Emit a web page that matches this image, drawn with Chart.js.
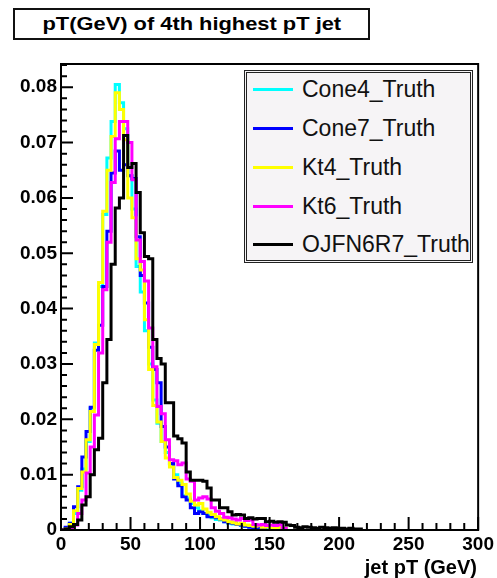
<!DOCTYPE html>
<html>
<head>
  <title>pT(GeV) of 4th highest pT jet</title>
  <script src="https://cdn.jsdelivr.net/npm/chart.js"></script>
  <style>
    body {
      margin: 0;
      background: #fff;
      font-family: "Liberation Sans", Arial, Helvetica, sans-serif;
    }

    .wrap {
      position: relative;
      width: 497px;
      height: 578px;
    }

    canvas {
      position: absolute;
      left: 0;
      top: 0;
    }

    .title {
      position: absolute;
      left: 13px;
      top: 8px;
      width: 353px;
      height: 28px;
      border: 2px solid #111;
      background: #fff;
      text-align: center;
      line-height: 28px;
      font-weight: bold;
      font-size: 19px;
    }

    .title span {
      display: inline-block;
      transform: scaleX(1.15);
    }

    .legend {
      position: absolute;
      left: 244px;
      top: 70px;
      width: 223px;
      height: 187px;
      border: 3px double #222;
      background: #f6f4f6;
    }

    .legend .row {
      position: absolute;
      left: 0;
      height: 26px;
      width: 100%;
    }

    .legend .swatch {
      position: absolute;
      left: 6px;
      top: 12px;
      width: 40px;
      height: 3px;
    }

    .legend .label {
      position: absolute;
      left: 55px;
      top: 0;
      font-size: 23px;
      line-height: 26px;
      color: #111;
      white-space: nowrap;
    }

    .xtitle {
      position: absolute;
      right: 20px;
      top: 556px;
      font-weight: bold;
      font-size: 20px;
      line-height: 22px;
    }
  </style>
</head>
<body>
  <div class="wrap">
    <canvas id="ptChart" width="497" height="578"></canvas>
    <div class="title"><span>pT(GeV) of 4th highest pT jet</span></div>
    <div class="legend" id="legend"></div>
    <div class="xtitle">jet pT (GeV)</div>
  </div>

  <script>
    // 3 GeV bins starting at 0
    const binWidth = 3;
    const xTicks = [0, 50, 100, 150, 200, 250, 300];
    const yTicks = [0, 0.01, 0.02, 0.03, 0.04, 0.05, 0.06, 0.07, 0.08];

    const seriesNames = ['Cone4_Truth', 'Cone7_Truth', 'Kt4_Truth', 'Kt6_Truth', 'OJFN6R7_Truth'];
    const seriesColors = ['#00ffff', '#0000ff', '#ffff00', '#ff00ff', '#000000'];

    const cone4 = [0, 0.0003, 0.0012, 0.0030, 0.0072, 0.0110, 0.0160, 0.0220, 0.0338, 0.0440,
      0.0570, 0.0672, 0.0738, 0.0805, 0.0772, 0.0725, 0.0640, 0.0580, 0.0476, 0.0430,
      0.0360, 0.0300, 0.0235, 0.0193, 0.0160, 0.0140, 0.0118, 0.0100, 0.0085, 0.0062,
      0.0058, 0.0048, 0.0040, 0.0035, 0.0030, 0.0026, 0.0022, 0.0019, 0.0018, 0.0015,
      0.0012, 0.0011, 0.0010, 0.0008, 0.0007, 0.0006, 0.0005, 0.0004, 0.0003, 0.0003,
      0.0002, 0.0002, 0.0001];

    const cone7 = [0.0001, 0.0005, 0.0012, 0.0042, 0.0078, 0.0132, 0.0178, 0.0222, 0.0325, 0.0370,
      0.0440, 0.0540, 0.0645, 0.0685, 0.0650, 0.0660, 0.0640, 0.0635, 0.0530, 0.0460,
      0.0410, 0.0330, 0.0290, 0.0266, 0.0187, 0.0150, 0.0120, 0.0092, 0.0080, 0.0060,
      0.0054, 0.0040, 0.0030, 0.0033, 0.0030, 0.0024, 0.0024, 0.0022, 0.0020, 0.0015,
      0.0013, 0.0012, 0.0010, 0.0009, 0.0007, 0.0005, 0.0004, 0.0003, 0.0002];

    const kt4 = [0, 0.0002, 0.0010, 0.0035, 0.0075, 0.0105, 0.0163, 0.0214, 0.0335, 0.0447,
      0.0576, 0.0650, 0.0711, 0.0790, 0.0760, 0.0705, 0.0600, 0.0564, 0.0490, 0.0470,
      0.0380, 0.0290, 0.0225, 0.0195, 0.0160, 0.0130, 0.0114, 0.0095, 0.0090, 0.0082,
      0.0065, 0.0052, 0.0045, 0.0048, 0.0038, 0.0032, 0.0028, 0.0024, 0.0020, 0.0018,
      0.0015, 0.0013, 0.0011, 0.0012, 0.0009, 0.0008, 0.0007, 0.0008, 0.0005, 0.0006,
      0.0004, 0.0004, 0.0005, 0.0003];

    const kt6 = [0, 0, 0.0002, 0.0009, 0.0030, 0.0054, 0.0103, 0.0150, 0.0208, 0.0320,
      0.0434, 0.0520, 0.0628, 0.0707, 0.0738, 0.0738, 0.0700, 0.0633, 0.0524, 0.0485,
      0.0450, 0.0365, 0.0295, 0.0223, 0.0210, 0.0163, 0.0127, 0.0125, 0.0118, 0.0121,
      0.0092, 0.0088, 0.0054, 0.0058, 0.0060, 0.0056, 0.0040, 0.0034, 0.0030, 0.0023,
      0.0022, 0.0020, 0.0018, 0.0021, 0.0017, 0.0018, 0.0010, 0.0009, 0.0010, 0.0008,
      0.0009, 0.0008, 0.0010, 0.0003];

    const ojfn6r7 = [0, 0.0002, 0.0006, 0.0010, 0.0018, 0.0045, 0.0060, 0.0100, 0.0145, 0.0166,
      0.0266, 0.0344, 0.0480, 0.0582, 0.0600, 0.0713, 0.0655, 0.0662, 0.0610, 0.0537,
      0.0494, 0.0490, 0.0344, 0.0310, 0.0300, 0.0230, 0.0230, 0.0170, 0.0165, 0.0157,
      0.0105, 0.0090, 0.0090, 0.0090, 0.0088, 0.0076, 0.0054, 0.0054, 0.0040, 0.0040,
      0.0033, 0.0027, 0.0028, 0.0027, 0.0021, 0.0022, 0.0020, 0.0021, 0.0021, 0.0015,
      0.0016, 0.0014, 0.0015, 0.0014, 0.0009, 0.0008, 0.0005, 0.0004, 0.0006, 0.0005,
      0.0004, 0.0003, 0.0005, 0.0004, 0.0003, 0.0004, 0.0003, 0.0003, 0.0002, 0.0003,
      0.0002, 0.0002];

    const allSeries = [cone4, cone7, kt4, kt6, ojfn6r7];

    // histogram outline: one point per lower bin edge, then drop to zero
    function toSteps(values) {
      const pts = values.map((v, i) => ({ x: i * binWidth, y: v }));
      pts.push({ x: values.length * binWidth, y: 0 });
      return pts;
    }

    const frameAndTicks = {
      id: 'frameAndTicks',
      afterDatasetsDraw(chart) {
        const { ctx, chartArea: a, scales: { x, y } } = chart;
        ctx.save();
        ctx.strokeStyle = '#000';
        ctx.lineWidth = 2;
        ctx.beginPath();
        for (let v = 0; v <= 300; v += 10) {
          const px = x.getPixelForValue(v);
          const len = v % 50 === 0 ? 13 : 7;
          ctx.moveTo(px, a.bottom);
          ctx.lineTo(px, a.bottom - len);
        }
        for (let i = 0; i * 0.002 <= y.max; i++) {
          const py = y.getPixelForValue(i * 0.002);
          const len = i % 5 === 0 ? 12 : 6;
          ctx.moveTo(a.left, py);
          ctx.lineTo(a.left + len, py);
        }
        ctx.stroke();
        ctx.strokeRect(a.left, a.top, a.right - a.left, a.bottom - a.top);
        ctx.restore();
      }
    };

    const tickFont = { family: '"Liberation Sans", Arial, sans-serif', size: 19, weight: 'bold' };

    const chart = new Chart(document.getElementById('ptChart').getContext('2d'), {
      type: 'line',
      data: {
        datasets: allSeries.map((vals, i) => ({
          label: seriesNames[i],
          data: toSteps(vals),
          borderColor: seriesColors[i],
          borderWidth: 3,
          pointRadius: 0,
          stepped: true,
          fill: false,
          order: allSeries.length - i
        }))
      },
      options: {
        responsive: false,
        animation: false,
        layout: { padding: { top: 64, right: 17, left: 0, bottom: 0 } },
        scales: {
          x: {
            type: 'linear',
            min: 0,
            max: 300,
            afterBuildTicks: s => { s.ticks = xTicks.map(v => ({ value: v })); },
            afterFit: s => { s.height = 48; },
            grid: { display: false, drawTicks: false },
            border: { display: false },
            ticks: { font: tickFont, color: '#000', padding: 3, maxRotation: 0, autoSkip: false,
              callback: v => String(v) }
          },
          y: {
            type: 'linear',
            min: 0,
            max: 0.0842,
            afterBuildTicks: s => { s.ticks = yTicks.map(v => ({ value: v })); },
            afterFit: s => { s.width = 61; },
            grid: { display: false, drawTicks: false },
            border: { display: false },
            ticks: { font: tickFont, color: '#000', padding: 4, autoSkip: false,
              callback: v => (v === 0 ? '0' : v.toFixed(2)) }
          }
        },
        plugins: {
          legend: { display: false },
          tooltip: { enabled: false }
        }
      },
      plugins: [frameAndTicks]
    });

    // legend box inside the frame
    const rowTops = [3, 42, 81, 120, 158];
    const legend = document.getElementById('legend');
    seriesNames.forEach((name, i) => {
      const row = document.createElement('div');
      row.className = 'row';
      row.style.top = rowTops[i] + 'px';
      row.innerHTML = '<div class="swatch" style="background:' + seriesColors[i] + '"></div>' +
        '<div class="label">' + name + '</div>';
      legend.appendChild(row);
    });
  </script>
</body>
</html>
